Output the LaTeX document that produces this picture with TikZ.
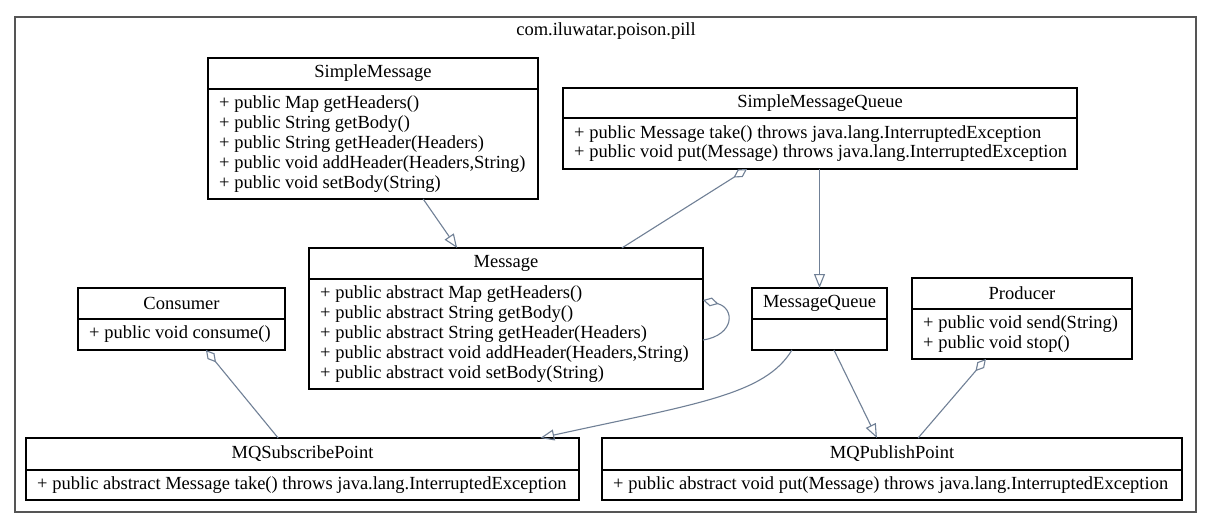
\documentclass[tikz,border=0pt]{standalone}
\usepackage{fontspec}
\setmainfont{Liberation Serif}
\usetikzlibrary{arrows.meta,calc}
\definecolor{edgec}{RGB}{112,128,150}
\definecolor{framec}{RGB}{85,85,85}
\newcommand\umlclass[8]{%
  \node[cls,minimum width=#4pt,minimum height=#5pt] (#1) at (#2,#3) {};
  \draw[line width=1.2pt] ($(#1.north west)+(0,#6)$) -- ($(#1.north east)+(0,#6)$);
  \node[hdr] (#1-t) at ($(#1.north)+(0,#6/2)$) {#7};
  \node[body] (#1-b) at ($(#1.north west)!0.5!(#1.south west)+(11,#6/2)$) {#8};
}
\begin{document}
\begin{tikzpicture}[x=1pt,y=-1pt,
  cls/.style={draw=black,line width=1.2pt,anchor=north west,inner sep=0pt,outer sep=0pt},
  hdr/.style={font=\fontsize{18.5}{19.8}\selectfont,inner sep=0pt},
  body/.style={font=\fontsize{18.5}{19.8}\selectfont,align=left,inner sep=0pt,anchor=west},
  gen/.style={draw=edgec,line width=1.1pt,-{Triangle[open,length=14pt,width=11pt]}},
  agg/.style={draw=edgec,line width=1.1pt,{Diamond[open,length=16pt,width=9pt]}-},
]
\useasboundingbox (0,0) rectangle (1208,528);
\fill[white] (0,0) rectangle (1208,528);
\node[draw=framec,line width=1.8pt,minimum width=1181pt,minimum height=495pt,anchor=north west,inner sep=0pt] (pkg) at (14,16) {};
\node[hdr] (pkgt) at (606,31) {com.iluwatar.poison.pill};

\umlclass{sm}{208}{58}{330}{141}{31}{SimpleMessage}{+ public Map getHeaders()\\+ public String getBody()\\+ public String getHeader(Headers)\\+ public void addHeader(Headers,String)\\+ public void setBody(String)}
\umlclass{smq}{563}{88}{514}{81}{30}{SimpleMessageQueue}{+ public Message take() throws java.lang.InterruptedException\\+ public void put(Message) throws java.lang.InterruptedException}
\umlclass{msg}{309}{248}{394}{141}{31}{Message}{+ public abstract Map getHeaders()\\+ public abstract String getBody()\\+ public abstract String getHeader(Headers)\\+ public abstract void addHeader(Headers,String)\\+ public abstract void setBody(String)}
\umlclass{con}{78}{288}{207}{62}{31}{Consumer}{+ public void consume()}
\umlclass{mq}{752}{288}{135}{62}{31}{MessageQueue}{}
\umlclass{prod}{912}{278}{220}{81}{31}{Producer}{+ public void send(String)\\+ public void stop()}
\umlclass{sub}{26}{438}{553}{62}{32}{MQSubscribePoint}{+ public abstract Message take() throws java.lang.InterruptedException}
\umlclass{pub}{602}{438}{580}{62}{32}{MQPublishPoint}{+ public abstract void put(Message) throws java.lang.InterruptedException}

\draw[gen] ($(sm.south west)!0.652!(sm.south east)$) -- ($(msg.north west)!0.376!(msg.north east)$);
\draw[agg] ($(smq.south west)!0.358!(smq.south east)$) -- ($(msg.north west)!0.794!(msg.north east)$);
\draw[gen] (smq.south -| mq.north) -- (mq.north);
\draw[agg] ($(msg.north east)+(0,52)$) .. controls +(32,8) and +(32,-5) .. ($(msg.north east)+(0,92)$);
\draw[agg] ($(con.south west)!0.618!(con.south east)$) -- ($(sub.north west)!0.456!(sub.north east)$);
\draw[gen] ($(mq.south west)!0.296!(mq.south east)$) .. controls +(-27,45) and +(155,-34) .. ($(sub.north west)!0.93!(sub.north east)$);
\draw[gen] ($(mq.south west)!0.607!(mq.south east)$) -- ($(pub.north west)!0.474!(pub.north east)$);
\draw[agg] ($(prod.south west)!0.336!(prod.south east)$) -- ($(pub.north west)!0.545!(pub.north east)$);
\end{tikzpicture}
\end{document}
